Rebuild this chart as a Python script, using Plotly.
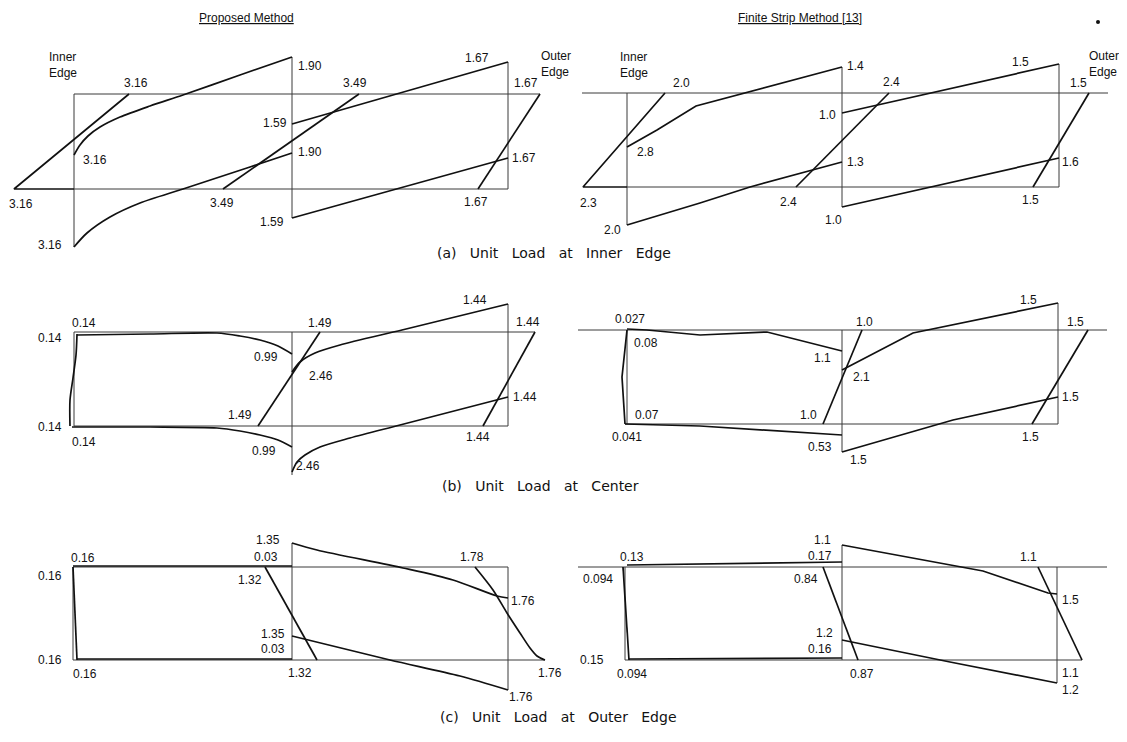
import plotly.graph_objects as go

# Drawing sheet (schematic influence-line diagram, drawing units = sheet pixels)
SHEET_W, SHEET_H = 1127, 742
PAGE_MARGIN = 8  # default body margin of the html page

# ---------------- (a) Unit load at inner edge : Proposed Method ----------------
A_PM_FRAME = [
    [(74, 94), (540, 94)], [(74, 189), (508, 189)],
    [(74, 94), (74, 247)], [(292, 57), (292, 218)], [(508, 62), (508, 189)],
]
A_PM_LINES = [
    [(74, 189), (14, 189), (129, 94)],
    [(223, 189), (359, 94)],
    [(292, 124), (508, 62)],
    [(292, 218), (508, 158)],
    [(478, 189), (540, 94)],
]
A_PM_CURVES = [
    [(74, 155), (80, 145), (88, 136), (100, 127), (120, 117), (150, 106), (183, 95), (240, 75), (292, 57)],
    [(74, 247), (87, 233), (110, 217), (140, 203), (183, 189), (250, 167), (292, 153)],
]
A_PM_LABELS = [
    ("3.16", 136, 83), ("3.16", 95, 160), ("3.16", 21, 204), ("3.16", 50, 245),
    ("3.49", 222, 203), ("1.59", 275, 123), ("1.59", 272, 222), ("1.90", 310, 66),
    ("1.90", 310, 152), ("3.49", 355, 83), ("1.67", 477, 58), ("1.67", 526, 83),
    ("1.67", 524, 158), ("1.67", 476, 202),
]

# ---------------- (a) Unit load at inner edge : Finite Strip Method ----------------
A_FS_FRAME = [
    [(582, 93), (1108, 93)], [(627, 187), (1059, 187)],
    [(627, 93), (627, 225)], [(842, 67), (842, 207)], [(1059, 64), (1059, 187)],
]
A_FS_LINES = [
    [(627, 187), (583, 187), (665, 93)],
    [(627, 147), (657, 130), (696, 106), (842, 67)],
    [(627, 225), (700, 203), (750, 187), (842, 162)],
    [(796, 187), (889, 93)],
    [(842, 113), (1059, 64)],
    [(842, 207), (1059, 158)],
    [(1033, 187), (1089, 93)],
]
A_FS_LABELS = [
    ("2.0", 681, 83), ("2.8", 645, 152), ("2.3", 588, 203), ("2.0", 612, 230),
    ("2.4", 788, 202), ("1.4", 855, 66), ("1.0", 827, 115), ("1.3", 855, 162),
    ("1.0", 833, 220), ("2.4", 891, 82), ("1.5", 1020, 62), ("1.5", 1078, 83),
    ("1.6", 1070, 162), ("1.5", 1030, 200),
]

# ---------------- (b) Unit load at center : Proposed Method ----------------
B_PM_FRAME = [
    [(74, 332), (535, 332)], [(74, 426), (508, 426)],
    [(74, 332), (74, 426)], [(292, 332), (292, 475)], [(508, 304), (508, 426)],
]
B_PM_LINES = [
    [(258, 426), (300, 363), (320, 332)],
    [(483, 426), (535, 332)],
]
B_PM_CURVES = [
    [(77, 334), (76, 355), (73, 378), (70, 400), (70, 426)],
    [(77, 335), (150, 334), (217, 333), (240, 336), (260, 340), (278, 346), (292, 354)],
    [(72, 427), (150, 427), (217, 428), (240, 431), (260, 435), (278, 440), (292, 447)],
    [(292, 372), (300, 362), (315, 353), (340, 345), (402, 330), (508, 304)],
    [(292, 472), (297, 462), (305, 455), (320, 447), (350, 438), (400, 425), (508, 397)],
]
B_PM_LABELS = [
    ("0.14", 84, 323), ("0.14", 50, 338), ("0.14", 50, 427), ("0.14", 84, 442),
    ("0.99", 266, 357), ("1.49", 240, 415), ("0.99", 264, 451), ("1.49", 320, 323),
    ("2.46", 321, 376), ("2.46", 308, 466), ("1.44", 475, 300), ("1.44", 528, 322),
    ("1.44", 525, 397), ("1.44", 478, 437),
]

# ---------------- (b) Unit load at center : Finite Strip Method ----------------
B_FS_FRAME = [
    [(578, 330), (1107, 330)], [(625, 424), (1058, 424)],
    [(627, 330), (627, 424)], [(842, 330), (842, 452)], [(1058, 303), (1058, 424)],
]
B_FS_LINES = [
    [(627, 330), (622, 377), (625, 424)],
    [(627, 329), (647, 330), (700, 335), (767, 332), (842, 351)],
    [(625, 424), (700, 426), (842, 435)],
    [(823, 424), (862, 330)],
    [(842, 370), (913, 333), (1058, 303)],
    [(842, 452), (953, 420), (1058, 397)],
    [(1032, 424), (1088, 330)],
]
B_FS_LABELS = [
    ("0.027", 630, 319), ("0.08", 646, 343), ("1.1", 822, 358), ("0.07", 647, 415),
    ("0.041", 627, 437), ("1.0", 808, 415), ("0.53", 820, 447), ("1.0", 864, 322),
    ("2.1", 861, 377), ("1.5", 858, 460), ("1.5", 1028, 300), ("1.5", 1075, 322),
    ("1.5", 1070, 397), ("1.5", 1030, 437),
]

# ---------------- (c) Unit load at outer edge : Proposed Method ----------------
C_PM_FRAME = [
    [(73, 567), (508, 567)], [(73, 660), (545, 660)],
    [(73, 567), (73, 660)], [(292, 543), (292, 660)], [(508, 567), (508, 690)],
]
C_PM_LINES = [
    [(73, 567), (77, 660)],
    [(73, 566), (292, 566)],
    [(77, 659), (292, 659)],
    [(265, 567), (317, 660)],
]
C_PM_CURVES = [
    [(292, 543), (317, 550), (403, 568), (453, 580), (497, 596), (508, 598)],
    [(475, 567), (493, 590), (507, 613), (520, 633), (530, 648), (537, 656), (545, 660)],
    [(292, 636), (390, 660), (460, 676), (508, 690)],
]
C_PM_LABELS = [
    ("0.16", 83, 558), ("0.16", 50, 576), ("1.35", 268, 540), ("0.03", 266, 557),
    ("1.32", 250, 580), ("1.35", 273, 634), ("0.03", 273, 649), ("0.16", 50, 660),
    ("0.16", 85, 674), ("1.32", 300, 673), ("1.78", 472, 557), ("1.76", 523, 601),
    ("1.76", 550, 673), ("1.76", 521, 697),
]

# ---------------- (c) Unit load at outer edge : Finite Strip Method ----------------
C_FS_FRAME = [
    [(578, 567), (1107, 567)], [(625, 660), (1082, 660)],
    [(625, 567), (625, 660)], [(842, 545), (842, 660)], [(1057, 567), (1057, 683)],
]
C_FS_LINES = [
    [(623, 567), (629, 660)],
    [(627, 565), (842, 562)],
    [(629, 659), (842, 658)],
    [(842, 545), (983, 571), (1048, 593), (1057, 594)],
    [(1038, 567), (1082, 660)],
    [(823, 567), (858, 660)],
    [(842, 640), (950, 662), (1057, 683)],
]
C_FS_LABELS = [
    ("0.13", 632, 557), ("0.094", 598, 579), ("1.1", 822, 540), ("0.17", 820, 556),
    ("0.84", 806, 579), ("1.2", 824, 633), ("0.16", 820, 649), ("1.1", 1028, 557),
    ("1.5", 1070, 600), ("0.15", 592, 660), ("0.094", 632, 674), ("0.87", 862, 674),
    ("1.1", 1070, 673), ("1.2", 1070, 690),
]

EDGE_LABELS = [
    ("Inner<br>Edge", 63, 65), ("Outer<br>Edge", 556, 64),
    ("Inner<br>Edge", 634, 65), ("Outer<br>Edge", 1104, 64),
]
TITLES = [("<u>Proposed Method</u>", 246, 18), ("<u>Finite Strip Method [13]</u>", 800, 18)]
CAPTIONS = [
    ("(a)   Unit   Load   at   Inner   Edge", 554, 253),
    ("(b)   Unit   Load   at   Center", 540, 486),
    ("(c)   Unit   Load   at   Outer   Edge", 558, 717),
]

FRAMES = A_PM_FRAME + A_FS_FRAME + B_PM_FRAME + B_FS_FRAME + C_PM_FRAME + C_FS_FRAME
LINES = A_PM_LINES + A_FS_LINES + B_PM_LINES + B_FS_LINES + C_PM_LINES + C_FS_LINES
CURVES = A_PM_CURVES + B_PM_CURVES + C_PM_CURVES
LABELS = A_PM_LABELS + A_FS_LABELS + B_PM_LABELS + B_FS_LABELS + C_PM_LABELS + C_FS_LABELS

fig = go.Figure()


def add_polys(polys, width, color, shape="linear"):
    for p in polys:
        line = dict(color=color, width=width, shape=shape)
        if shape == "spline":
            line["smoothing"] = 0.8
        fig.add_trace(go.Scatter(
            x=[q[0] for q in p], y=[q[1] for q in p], mode="lines",
            line=line, hoverinfo="skip", showlegend=False))


add_polys(FRAMES, 1.0, "#3a3a3a")
add_polys(LINES, 1.7, "#111111")
add_polys(CURVES, 1.7, "#111111", "spline")

# small dot at the top right of the sheet
fig.add_trace(go.Scatter(x=[1098], y=[22], mode="markers",
                         marker=dict(color="#111", size=4), hoverinfo="skip", showlegend=False))

NUM_FONT = dict(family="Liberation Sans, Arial, sans-serif", size=12, color="#111")
for t, x, y in LABELS:
    fig.add_annotation(x=x, y=y, text=t, showarrow=False, xanchor="center", yanchor="middle", font=NUM_FONT)
for t, x, y in EDGE_LABELS:
    fig.add_annotation(x=x, y=y, text=t, showarrow=False, xanchor="center", yanchor="middle",
                       font=NUM_FONT, align="left")
for t, x, y in TITLES:
    fig.add_annotation(x=x, y=y, text=t, showarrow=False, xanchor="center", yanchor="middle",
                       font=dict(family="Liberation Sans, Arial, sans-serif", size=12, color="#111"))
for t, x, y in CAPTIONS:
    fig.add_annotation(x=x, y=y, text=t.replace(" ", "\u00a0"), showarrow=False, xanchor="center",
                       yanchor="middle", font=dict(family="DejaVu Sans, sans-serif", size=14, color="#111"))

fig.update_layout(
    width=SHEET_W - PAGE_MARGIN, height=SHEET_H - PAGE_MARGIN, margin=dict(l=0, r=0, t=0, b=0),
    paper_bgcolor="white", plot_bgcolor="white",
    xaxis=dict(range=[PAGE_MARGIN, SHEET_W], visible=False, fixedrange=True),
    yaxis=dict(range=[SHEET_H, PAGE_MARGIN], visible=False, fixedrange=True),
)
fig.write_html("out.html")
